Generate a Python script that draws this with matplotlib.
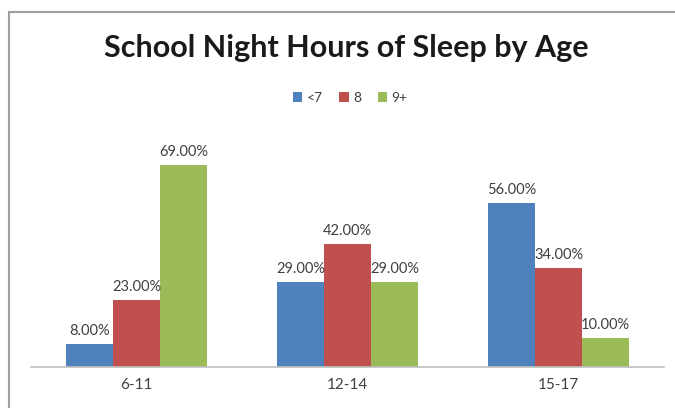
import numpy as np
import matplotlib
matplotlib.use('Agg')
import matplotlib.pyplot as plt
from matplotlib.patches import Rectangle

plt.rcParams['font.family'] = ['Lato', 'DejaVu Sans']

ages = ['6-11', '12-14', '15-17']
series = ['<7', '8', '9+']
under7 = [8, 29, 56]
eight = [23, 42, 34]
nine_plus = [69, 29, 10]
colors = ['#4F81BD', '#C0504D', '#9BBB59']

fig = plt.figure(figsize=(6.75, 4.08), dpi=100)
W, H = 675, 408
ax = fig.add_axes([31 / W, 1 - 367 / H, (664 - 31) / W, (367 - 133) / H])

x = np.arange(len(ages))
bw = 0.223
for i, (vals, name, c) in enumerate(zip([under7, eight, nine_plus], series, colors)):
    pos = x + (i - 1) * bw
    ax.bar(pos, vals, bw, color=c, label=name)
    for p, v in zip(pos, vals):
        ax.text(p, v + 2.0, f'{v:.2f}%', ha='center', va='bottom',
                fontsize=10.5, color='#404040')

ax.set_xlim(-0.5, 2.5)
ax.set_ylim(0, 80)
ax.set_yticks([])
ax.set_xticks(x)
ax.set_xticklabels(ages, fontsize=11, color='#404040')
ax.tick_params(axis='x', length=0, pad=8)
for s in ['top', 'right', 'left']:
    ax.spines[s].set_visible(False)
ax.spines['bottom'].set_color('#BFBFBF')
ax.spines['bottom'].set_linewidth(1.2)

fig.text(346 / W, 1 - 48 / H, 'School Night Hours of Sleep by Age',
         ha='center', va='center', fontsize=22, fontweight='bold', color='#1a1a1a')

fig.legend(loc='center', bbox_to_anchor=(350 / W, 1 - 98 / H), ncol=3,
           frameon=False, fontsize=10, handlelength=0.7, handleheight=0.7,
           handletextpad=0.3, columnspacing=1.2, labelcolor='#404040')

fig.patches.append(Rectangle((9 / W, -0.05), 1.1, 1 - 12 / H + 0.05,
                             transform=fig.transFigure, fill=False,
                             edgecolor='#A0A0A0', linewidth=1.5))

fig.savefig('out.png', dpi=100)
